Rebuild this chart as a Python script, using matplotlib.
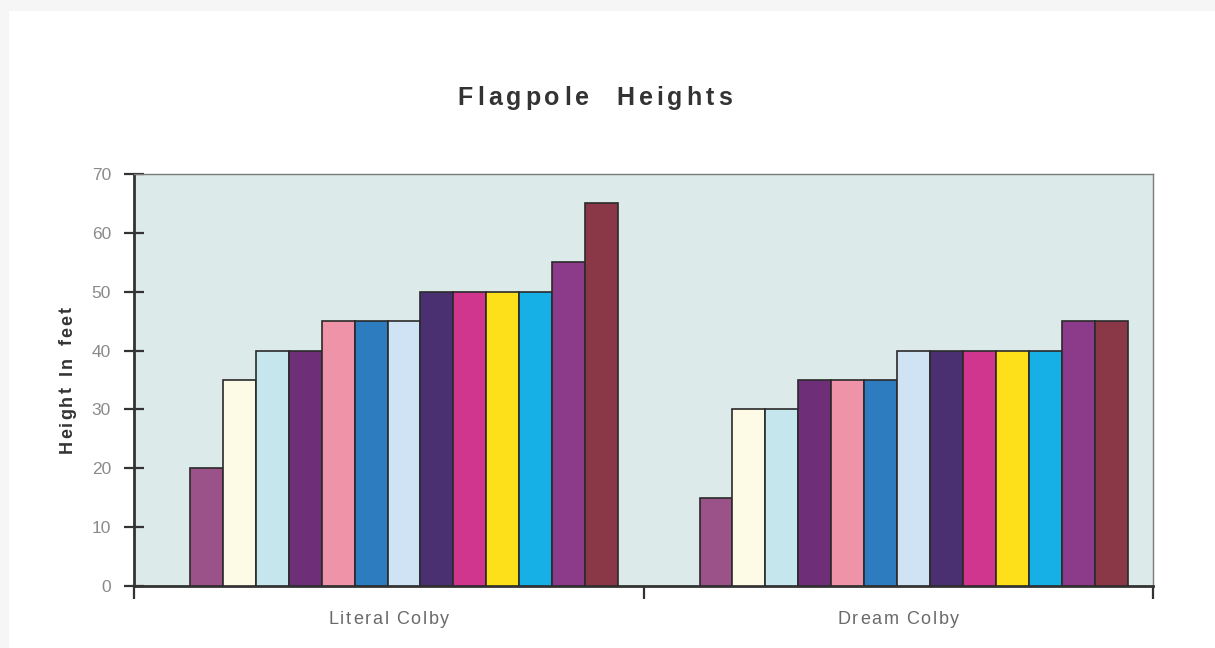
import matplotlib
matplotlib.use("Agg")
import matplotlib.pyplot as plt
from matplotlib.patches import Rectangle
import numpy as np

plt.rcParams['font.family'] = ['Liberation Sans', 'DejaVu Sans']

# Data
categories = ["Literal Colby", "Dream Colby"]
literal_colby = [20, 35, 40, 40, 45, 45, 45, 50, 50, 50, 50, 55, 65]
dream_colby = [15, 30, 30, 35, 35, 35, 40, 40, 40, 40, 40, 45, 45]
series_values = [literal_colby, dream_colby]
y_ticks = [0, 10, 20, 30, 40, 50, 60, 70]
title = "Flagpole   Heights"
y_label = "Height  In  feet"

bar_colors = ["#9a5288", "#fdfbe6", "#c5e6ec", "#6e2f78", "#ee93a8",
              "#2e7cc0", "#cfe3f5", "#4a3070", "#d0368e", "#fde01a",
              "#16b0e6", "#8c3a8a", "#8a3848"]

W, H = 1215, 648
fig = plt.figure(figsize=(W / 100, H / 100), dpi=100, facecolor="#f6f6f6")
# white page area inside the light grey frame
fig.patches.append(Rectangle((9 / W, 0), 1, 1 - 11 / H,
                             transform=fig.transFigure, facecolor="white",
                             edgecolor="none", zorder=-5))

ax = fig.add_axes([134 / W, 62 / H, 1019 / W, 412 / H])
ax.set_facecolor("#dcebe9")

n = len(bar_colors)
group_width = 0.84
w = group_width / n
offset = 0.03
for gi, vals in enumerate(series_values):
    for i, v in enumerate(vals):
        x = gi + offset + (i - (n - 1) / 2) * w
        ax.bar(x, v, width=w, color=bar_colors[i], edgecolor="#2a2a2a",
               linewidth=1.2, zorder=3)

ax.set_xlim(-0.5, 1.5)
ax.set_ylim(0, 70)

# spines
for side in ("top", "right"):
    ax.spines[side].set_color("#7a7a7a")
    ax.spines[side].set_linewidth(1.0)
for side in ("left", "bottom"):
    ax.spines[side].set_color("#333333")
    ax.spines[side].set_linewidth(2.0)

ax.set_yticks(y_ticks)
ax.set_yticklabels([str(t) for t in y_ticks], color="#8a8a8a", fontsize=12.5)
ax.tick_params(axis="y", direction="inout", length=15, width=1.6,
               color="#333333", pad=9)

# category boundary ticks on the x axis
ax.set_xticks([-0.5, 0.5, 1.5])
ax.set_xticklabels([])
ax.tick_params(axis="x", direction="out", length=9, width=1.6,
               color="#333333")


def spaced_text(s, xc, yc, tracking, space_px, vertical=False, **kw):
    """Draw a string with extra letter spacing, centred at (xc, yc) px.
    With vertical=True the string runs bottom-to-top and (xc, yc) gives the
    baseline x and the vertical centre."""
    renderer = fig.canvas.get_renderer()
    widths = []
    for ch in s:
        if ch == " ":
            widths.append(space_px)
            continue
        t = fig.text(0, 0, ch, **kw)
        widths.append(t.get_window_extent(renderer).width)
        t.remove()
    total = sum(widths) + tracking * (len(s) - 1)
    pos = (yc if vertical else xc) - total / 2
    for ch, cw in zip(s, widths):
        if ch != " ":
            if vertical:
                fig.text(xc / W, pos / H, ch, rotation=90,
                         rotation_mode="anchor", ha="left", va="baseline",
                         **kw)
            else:
                fig.text(pos / W, yc / H, ch, ha="left", va="center", **kw)
        pos += cw + tracking


spaced_text(title, 595, H - 98, tracking=4, space_px=4,
            fontsize=18, fontweight="bold", color="#333333")

spaced_text(y_label, 72, H - 380, tracking=2, space_px=3, vertical=True,
            fontsize=13, fontweight="bold", color="#333333")

# category labels centred under each group
for gi, name in enumerate(categories):
    xc = ax.transData.transform((gi + offset - 0.03, 0))[0]
    spaced_text(name, xc, H - 619, tracking=1.8, space_px=4,
                fontsize=13, color="#6a6a6a")

fig.savefig("out.png", dpi=100, facecolor=fig.get_facecolor())
